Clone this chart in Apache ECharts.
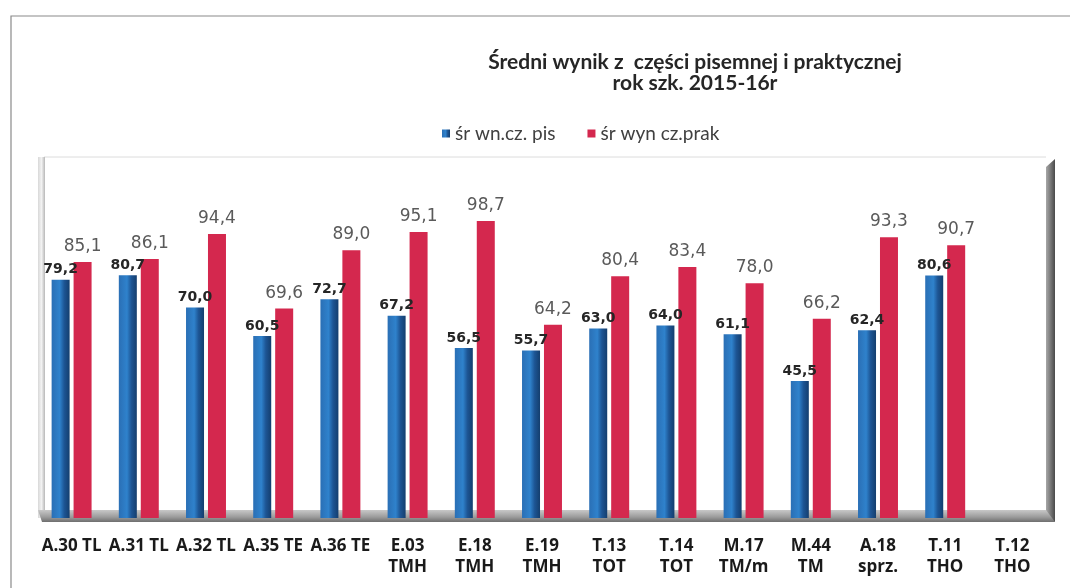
<!DOCTYPE html>
<html>
<head>
<meta charset="utf-8">
<script src="https://cdn.jsdelivr.net/npm/echarts@6/dist/echarts.min.js"></script>
<style>
html,body{margin:0;padding:0;background:#fff;}
#c{width:1070px;height:588px;}
</style>
</head>
<body>
<div id="c"></div>
<script>
const categories = ['A.30 TL','A.31 TL','A.32 TL','A.35 TE','A.36 TE','E.03\nTMH','E.18\nTMH','E.19\nTMH','T.13\nTOT','T.14\nTOT','M.17\nTM/m','M.44\nTM','A.18\nsprz.','T.11\nTHO','T.12\nTHO'];
const seriesNames = ['śr wn.cz. pis', 'śr wyn cz.prak'];
const pisemna = [79.2, 80.7, 70.0, 60.5, 72.7, 67.2, 56.5, 55.7, 63.0, 64.0, 61.1, 45.5, 62.4, 80.6, null];
const praktyczna = [85.1, 86.1, 94.4, 69.6, 89.0, 95.1, 98.7, 64.2, 80.4, 83.4, 78.0, 66.2, 93.3, 90.7, null];
const titleText = 'Średni wynik z  części pisemnej i praktycznej\nrok szk. 2015-16r';

const W = 1070, H = 588;
const G = {left: 38, right: 24, top: 157, bottom: 70};
const gx0 = G.left, gx1 = W - G.right, gy0 = G.top, gy1 = H - G.bottom;

const fmt = p => p.value == null ? '' : p.value.toFixed(1).replace('.', ',');

const chart = echarts.init(document.getElementById('c'), null, {renderer: 'canvas'});
chart.setOption({
  backgroundColor: '#ffffff',
  animation: false,
  title: {
    text: titleText,
    left: 690,
    top: 47,
    textAlign: 'center',
    textStyle: {fontFamily: 'Lato', fontWeight: 'bold', fontSize: 21, lineHeight: 21, color: '#262626'}
  },
  legend: {
    left: 437, top: 119,
    icon: 'rect', itemWidth: 8, itemHeight: 8, itemGap: 32,
    textStyle: {fontFamily: 'Lato', fontSize: 19, color: '#404040'},
    data: seriesNames
  },
  grid: {left: G.left, right: G.right, top: G.top, bottom: G.bottom, containLabel: false},
  xAxis: {
    type: 'category',
    data: categories,
    axisLine: {show: false},
    axisTick: {show: false},
    axisLabel: {
      interval: 0, margin: 18,
      fontFamily: 'Open Sans', fontWeight: 'bold', fontSize: 17, lineHeight: 21, color: '#1a1a1a'
    }
  },
  yAxis: {
    type: 'value', min: 0, max: 120, interval: 20,
    show: false, splitLine: {show: false}
  },
  graphic: [
    {type: 'rect', z: -10, silent: true, shape: {x: 11, y: 16, width: 1100, height: 600},
     style: {fill: 'none', stroke: '#8a8a8a', lineWidth: 1.2}},
    {type: 'line', z: 0, silent: true, shape: {x1: gx0 + 6, y1: gy0, x2: gx1, y2: gy0},
     style: {stroke: '#dcdcdc', lineWidth: 1}},
    {type: 'rect', z: 0, silent: true, shape: {x: gx0, y: gy0, width: 7, height: gy1 - gy0},
     style: {fill: new echarts.graphic.LinearGradient(0, 0, 1, 0, [
       {offset: 0, color: '#d8d8d8'}, {offset: 0.5, color: '#f2f2f2'}, {offset: 1, color: '#b8b8b8'}])}},
    {type: 'polygon', z: 0, silent: true,
     shape: {points: [[gx1, gy0 + 10], [gx1 + 9, gy0 + 2], [gx1 + 9, gy1 + 4], [gx1, gy1]]},
     style: {fill: new echarts.graphic.LinearGradient(0, 0, 1, 0, [
       {offset: 0, color: '#a8a8a8'}, {offset: 1, color: '#4a4a4a'}])}},
    {type: 'polygon', z: 0, silent: true,
     shape: {points: [[gx0, gy1 - 8], [gx1, gy1 - 8], [gx1 + 9, gy1 + 4], [gx0 + 4, gy1 + 4]]},
     style: {fill: new echarts.graphic.LinearGradient(0, 0, 0, 1, [
       {offset: 0, color: '#c8c8c8'}, {offset: 0.6, color: '#9a9a9a'}, {offset: 1, color: '#6e6e6e'}])}}
  ],
  series: [
    {
      name: seriesNames[0], type: 'bar', z: 3,
      data: pisemna, barWidth: 18, barGap: '22%',
      itemStyle: {color: new echarts.graphic.LinearGradient(0, 0, 1, 0, [
        {offset: 0, color: '#2a6fb5'}, {offset: 0.45, color: '#2f82cc'}, {offset: 0.7, color: '#1d5594'}, {offset: 1, color: '#143e6e'}])},
      label: {show: true, position: 'top', distance: 3, formatter: fmt,
        fontFamily: 'DejaVu Sans', fontWeight: 'bold', fontSize: 14, color: '#262626'}
    },
    {
      name: seriesNames[1], type: 'bar', z: 3,
      data: praktyczna, barWidth: 18,
      itemStyle: {color: '#d4284e'},
      label: {show: true, position: 'top', distance: 7, formatter: fmt,
        fontFamily: 'DejaVu Sans', fontSize: 17, color: '#5a5a5a'}
    }
  ],
  color: ['#2a78c0', '#d4284e']
});
</script>
</body>
</html>
